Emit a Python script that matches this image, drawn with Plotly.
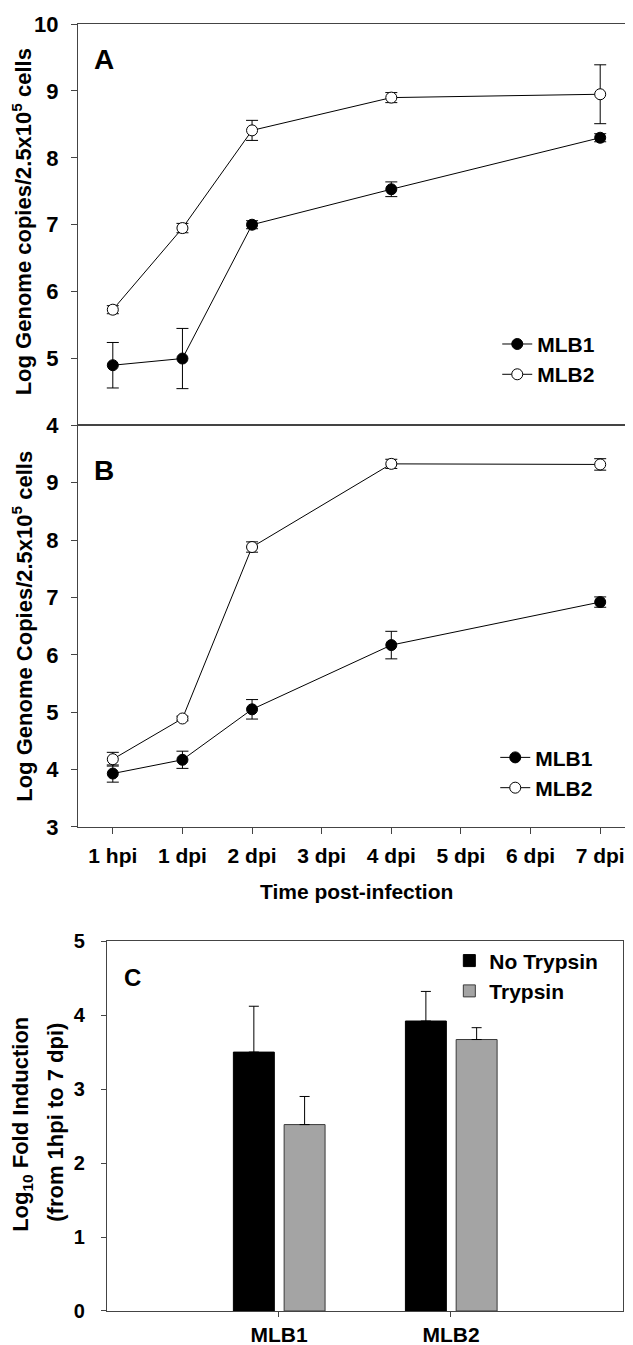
import plotly.graph_objects as go

# ---------------- data ----------------
time_labels = ["1 hpi", "1 dpi", "2 dpi", "3 dpi", "4 dpi", "5 dpi", "6 dpi", "7 dpi"]
sample_times = ["1 hpi", "1 dpi", "2 dpi", "4 dpi", "7 dpi"]

a_mlb1 = [4.90, 5.00, 7.00, 7.53, 8.30]
a_mlb1_err = [0.34, 0.45, 0.06, 0.11, 0.06]
a_mlb2 = [5.73, 6.95, 8.41, 8.90, 8.95]
a_mlb2_err = [0.06, 0.07, 0.15, 0.075, 0.44]

b_mlb1 = [3.93, 4.17, 5.05, 6.17, 6.92]
b_mlb1_err = [0.15, 0.15, 0.17, 0.24, 0.09]
b_mlb2 = [4.18, 4.89, 7.88, 9.33, 9.32]
b_mlb2_err = [0.12, 0.04, 0.09, 0.08, 0.10]

c_categories = ["MLB1", "MLB2"]
c_no_trypsin = [3.50, 3.92]
c_no_trypsin_err = [0.62, 0.40]
c_trypsin = [2.52, 3.67]
c_trypsin_err = [0.38, 0.16]

# ---------------- layout helpers ----------------
W, H = 633, 1345
ML, MR, MT, MB = 70, 5, 11, 42
PW = W - ML - MR
PH = H - MT - MB


def xp(px):
    return (px - ML) / PW


def yp(py):
    return (H - MB - py) / PH


x_idx = [time_labels.index(t) for t in sample_times]

FONT = "Liberation Sans, Arial, sans-serif"
AX = "#444444"

fig = go.Figure()


def line_trace(y, err, name, filled, xa, ya, legend):
    return go.Scatter(
        x=x_idx, y=y, name=name, mode="lines+markers",
        xaxis=xa, yaxis=ya, legend=legend,
        line=dict(color="black", width=1),
        marker=dict(symbol="circle", size=11,
                    color="black" if filled else "white",
                    line=dict(color="black", width=1)),
        error_y=dict(type="data", array=err, visible=True,
                     color="black", thickness=1, width=6),
    )


fig.add_trace(line_trace(a_mlb1, a_mlb1_err, "MLB1", True, "x", "y", "legend"))
fig.add_trace(line_trace(a_mlb2, a_mlb2_err, "MLB2", False, "x", "y", "legend"))
fig.add_trace(line_trace(b_mlb1, b_mlb1_err, "MLB1", True, "x2", "y2", "legend2"))
fig.add_trace(line_trace(b_mlb2, b_mlb2_err, "MLB2", False, "x2", "y2", "legend2"))

fig.add_trace(go.Bar(
    x=c_categories, y=c_no_trypsin, name="No Trypsin",
    xaxis="x3", yaxis="y3", legend="legend3",
    offset=-0.265, width=0.238,
    marker=dict(color="black", line=dict(color="black", width=1)),
    error_y=dict(type="data", symmetric=False, array=c_no_trypsin_err,
                 arrayminus=[0] * len(c_no_trypsin), color="black",
                 thickness=1, width=5),
))
fig.add_trace(go.Bar(
    x=c_categories, y=c_trypsin, name="Trypsin",
    xaxis="x3", yaxis="y3", legend="legend3",
    offset=0.03, width=0.238,
    marker=dict(color="#a4a4a4", line=dict(color="#3a3a3a", width=1)),
    error_y=dict(type="data", symmetric=False, array=c_trypsin_err,
                 arrayminus=[0] * len(c_trypsin), color="black",
                 thickness=1, width=5),
))

tickfont = dict(family=FONT, size=21, color="black", weight="bold")

common_x = dict(range=[-0.5, 7.5], showline=True, linecolor=AX, linewidth=1,
                mirror=True, showgrid=False, zeroline=False,
                tickvals=list(range(len(time_labels))), ticktext=time_labels)

common_y = dict(showline=True, linecolor=AX, linewidth=1, mirror=True,
                showgrid=False, zeroline=False, ticks="outside", ticklen=6,
                tickcolor=AX, tickfont=dict(family=FONT, size=22, color="black", weight="bold"),
                dtick=1, ticklabelstandoff=8)

legfont = dict(family=FONT, size=21, weight="bold", color="black")

fig.update_layout(
    width=W, height=H,
    margin=dict(l=ML, r=MR, t=MT, b=MB),
    paper_bgcolor="white", plot_bgcolor="white",
    font=dict(family=FONT, color="black"),
    barmode="overlay",
    xaxis=dict(**common_x, domain=[0, 1], anchor="y", showticklabels=False, ticks=""),
    yaxis=dict(**common_y, domain=[yp(414), 1.0], range=[4, 10], anchor="x",
               tickvals=[4, 5, 6, 7, 8, 9, 10]),
    xaxis2=dict(**common_x, domain=[0, 1], anchor="y2", ticks="outside", ticklen=6,
                tickcolor=AX, tickfont=tickfont, ticklabelstandoff=4),
    yaxis2=dict(**common_y, domain=[yp(817), yp(414)], range=[3, 10], anchor="x2",
                tickvals=[3, 4, 5, 6, 7, 8, 9]),
    xaxis3=dict(domain=[xp(99), xp(616)], anchor="y3", range=[-1, 2],
                showline=True, linecolor=AX, linewidth=1, mirror=True,
                showgrid=False, zeroline=False, ticks="outside", ticklen=5,
                tickcolor=AX, tickfont=dict(family=FONT, size=21, color="black", weight="bold"),
                ticklabelstandoff=0),
    yaxis3=dict(domain=[0, yp(931.7)], anchor="x3", range=[0, 5],
                showline=True, linecolor=AX, linewidth=1, mirror=True,
                showgrid=False, zeroline=False, ticks="outside", ticklen=5,
                tickcolor=AX, dtick=1, ticklabelstandoff=12,
                tickfont=dict(family=FONT, size=20, color="black", weight="bold")),
    legend=dict(x=xp(490), y=yp(312), xanchor="left", yanchor="top",
                bgcolor="rgba(0,0,0,0)", font=legfont,
                tracegroupgap=0, itemwidth=30),
    legend2=dict(x=xp(488), y=yp(727), xanchor="left", yanchor="top",
                 bgcolor="rgba(0,0,0,0)", font=legfont,
                 tracegroupgap=0, itemwidth=30),
    legend3=dict(x=xp(442), y=yp(931), xanchor="left", yanchor="top",
                 bgcolor="rgba(0,0,0,0)", font=dict(family=FONT, size=21, weight="bold", color="black"),
                 tracegroupgap=0, itemwidth=30),
    showlegend=True,
)

ann_font = dict(family=FONT, color="black", weight="bold")
annotations = [
    dict(text="A", x=xp(96), y=yp(47), font=dict(**ann_font, size=28)),
    dict(text="B", x=xp(96), y=yp(459), font=dict(**ann_font, size=28)),
    dict(text="C", x=xp(125), y=yp(968), font=dict(**ann_font, size=24)),
    dict(text="Log Genome copies/2.5x10<sup>5</sup> cells", x=xp(14), y=yp(210),
         textangle=-90, font=dict(**ann_font, size=22)),
    dict(text="Log Genome Copies/2.5x10<sup>5</sup> cells", x=xp(14), y=yp(616),
         textangle=-90, font=dict(**ann_font, size=22)),
    dict(text="Time post-infection", x=xp(349), y=yp(882),
         font=dict(**ann_font, size=21)),
    dict(text="Log<sub>10</sub> Fold Induction", x=xp(14), y=yp(1116),
         textangle=-90, font=dict(**ann_font, size=22)),
    dict(text="(from 1hpi to 7 dpi)", x=xp(48), y=yp(1114),
         textangle=-90, font=dict(**ann_font, size=22)),
]
for a in annotations:
    a.update(xref="paper", yref="paper", showarrow=False,
             xanchor="center", yanchor="middle")
fig.update_layout(annotations=annotations)

fig.write_html("out.html")
